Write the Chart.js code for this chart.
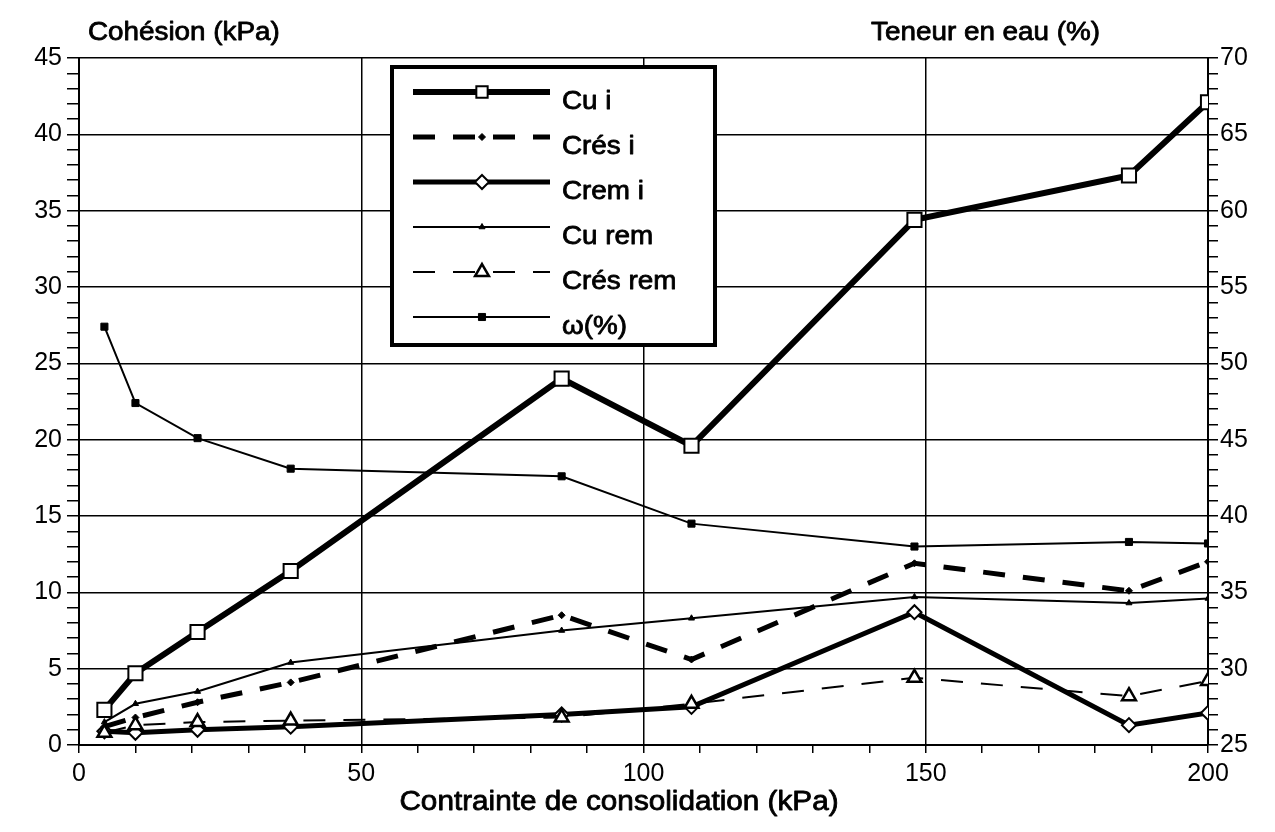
<!DOCTYPE html>
<html>
<head>
<meta charset="utf-8">
<script src="https://cdn.jsdelivr.net/npm/chart.js@4/dist/chart.umd.min.js"></script>
<style>
  html, body { margin: 0; padding: 0; background: #fff; }
  #wrap { width: 1275px; height: 832px; position: relative; }
  canvas { display: block; }
</style>
</head>
<body>
<div id="wrap"><canvas id="c" width="1275" height="832" style="width:1275px;height:832px"></canvas></div>
<script>
// Contrainte de consolidation (kPa)
const contrainte = [4.5, 10, 21, 37.5, 85.5, 108.5, 148, 186, 200];
// Cohésions (kPa) - axe de gauche
const cuI     = [2.3, 4.7, 7.4, 11.4, 24.0, 19.6, 34.4, 37.3, 42.1];
const cresI   = [1.2, 1.8, 2.8, 4.1, 8.5, 5.6, 11.9, 10.1, 12.0];
const cremI   = [0.9, 0.8, 1.0, 1.2, 2.0, 2.5, 8.7, 1.3, 2.1];
const cuRem   = [1.5, 2.7, 3.5, 5.4, 7.5, 8.3, 9.7, 9.3, 9.6];
const cresRem = [0.8, 1.3, 1.5, 1.6, 1.8, 2.7, 4.4, 3.2, 4.2];
// Teneur en eau (%) - axe de droite
const teneurEau = [52.4, 47.4, 45.1, 43.1, 42.6, 39.5, 38.0, 38.3, 38.2];

const seriesNames = ['Cu i', 'Crés i', 'Crem i', 'Cu rem', 'Crés rem', 'ω(%)'];

const FONT = "'Liberation Sans', Arial, Helvetica, sans-serif";

function pts(ys) { return contrainte.map((x, i) => ({ x: x, y: ys[i] })); }

const datasets = [
  { label: seriesNames[0], data: pts(cuI), yAxisID: 'y',
    borderColor: '#000', borderWidth: 6, borderDash: [],
    pointStyle: 'rect', pointRadius: 10, pointBorderWidth: 2,
    pointBackgroundColor: '#fff', pointBorderColor: '#000', order: 6 },
  { label: seriesNames[1], data: pts(cresI), yAxisID: 'y',
    borderColor: '#000', borderWidth: 5, borderDash: [22, 18],
    pointStyle: 'rectRot', pointRadius: 3.5, pointBorderWidth: 1,
    pointBackgroundColor: '#000', pointBorderColor: '#000', order: 5 },
  { label: seriesNames[2], data: pts(cremI), yAxisID: 'y',
    borderColor: '#000', borderWidth: 5, borderDash: [],
    pointStyle: 'rectRot', pointRadius: 7, pointBorderWidth: 2,
    pointBackgroundColor: '#fff', pointBorderColor: '#000', order: 4 },
  { label: seriesNames[3], data: pts(cuRem), yAxisID: 'y',
    borderColor: '#000', borderWidth: 2, borderDash: [],
    pointStyle: 'triangle', pointRadius: 3.5, pointBorderWidth: 1,
    pointBackgroundColor: '#000', pointBorderColor: '#000', order: 3 },
  { label: seriesNames[4], data: pts(cresRem), yAxisID: 'y',
    borderColor: '#000', borderWidth: 2, borderDash: [22, 18],
    pointStyle: 'triangle', pointRadius: 8, pointBorderWidth: 2.5,
    pointBackgroundColor: '#fff', pointBorderColor: '#000', order: 2 },
  { label: seriesNames[5], data: pts(teneurEau), yAxisID: 'y2',
    borderColor: '#000', borderWidth: 2, borderDash: [],
    pointStyle: 'rect', pointRadius: 5, pointBorderWidth: 1,
    pointBackgroundColor: '#000', pointBorderColor: '#000', order: 1 }
];

// horizontally stretched, slightly heavier text
function drawText(ctx, text, x, y, size, align, sx) {
  ctx.save();
  ctx.font = size + 'px ' + FONT;
  ctx.fillStyle = '#000';
  ctx.strokeStyle = '#000';
  ctx.lineWidth = 0.8;
  ctx.lineJoin = 'round';
  ctx.textBaseline = 'middle';
  const w = ctx.measureText(text).width * sx;
  let x0 = x;
  if (align === 'center') x0 = x - w / 2;
  else if (align === 'right') x0 = x - w;
  ctx.translate(x0, y);
  ctx.scale(sx, 1);
  ctx.textAlign = 'left';
  ctx.fillText(text, 0, 0);
  ctx.strokeText(text, 0, 0);
  ctx.restore();
}

// legend marker, same shapes as the chart points
function marker(ctx, style, r, x, y) {
  ctx.beginPath();
  if (style === 'rect') {
    const s = r * Math.SQRT1_2;
    ctx.rect(x - s, y - s, 2 * s, 2 * s);
  } else if (style === 'rectRot') {
    ctx.moveTo(x, y - r); ctx.lineTo(x + r, y); ctx.lineTo(x, y + r); ctx.lineTo(x - r, y);
    ctx.closePath();
  } else if (style === 'triangle') {
    ctx.moveTo(x, y - r);
    ctx.lineTo(x + Math.sin(2 * Math.PI / 3) * r, y - Math.cos(2 * Math.PI / 3) * r);
    ctx.lineTo(x + Math.sin(4 * Math.PI / 3) * r, y - Math.cos(4 * Math.PI / 3) * r);
    ctx.closePath();
  }
  ctx.fill();
  ctx.stroke();
}

const decor = {
  id: 'decor',
  afterDraw(chart) {
    const ctx = chart.ctx;
    // axis titles
    drawText(ctx, 'Cohésion (kPa)', 88, 33, 26, 'left', 1.07);
    drawText(ctx, 'Teneur en eau (%)', 1100, 33, 26, 'right', 1.07);
    drawText(ctx, 'Contrainte de consolidation (kPa)', 619, 803, 27, 'center', 1.1);

    // legend box
    const bx = 392, by = 67, bw = 323, bh = 278;
    ctx.save();
    ctx.fillStyle = '#fff';
    ctx.fillRect(bx, by, bw, bh);
    ctx.lineWidth = 4;
    ctx.strokeStyle = '#000';
    ctx.strokeRect(bx, by, bw, bh);
    ctx.restore();

    chart.data.datasets.forEach((ds, i) => {
      const ly = 92 + 45 * i;
      ctx.save();
      ctx.strokeStyle = ds.borderColor;
      ctx.lineWidth = ds.borderWidth;
      ctx.setLineDash(ds.borderDash || []);
      ctx.beginPath();
      ctx.moveTo(413, ly);
      ctx.lineTo(550, ly);
      ctx.stroke();
      ctx.setLineDash([]);
      ctx.fillStyle = ds.pointBackgroundColor;
      ctx.strokeStyle = ds.pointBorderColor;
      ctx.lineWidth = ds.pointBorderWidth;
      marker(ctx, ds.pointStyle, Math.min(ds.pointRadius, 8), 482, ly);
      ctx.restore();
      drawText(ctx, ds.label, 562, ly + 10, 26, 'left', 1.07);
    });
  }
};

const gridColor = (step) => (c) => (c.tick && Math.abs(c.tick.value % step) < 1e-9) ? '#000' : 'rgba(0,0,0,0)';

new Chart(document.getElementById('c'), {
  type: 'line',
  data: { datasets: datasets },
  options: {
    responsive: false,
    maintainAspectRatio: false,
    animation: false,
    devicePixelRatio: 1,
    layout: { padding: { top: 58, left: 0, right: 0, bottom: 0 } },
    plugins: { legend: { display: false }, tooltip: { enabled: false } },
    elements: { line: { tension: 0, fill: false } },
    scales: {
      x: {
        type: 'linear', position: 'bottom', min: 0, max: 200,
        afterFit(s) { s.height = 87; },
        ticks: {
          stepSize: 10, autoSkip: false, maxRotation: 0, padding: 6,
          color: '#000', font: { family: FONT, size: 25 },
          callback: (v) => (v % 50 === 0 ? String(v) : '')
        },
        grid: { color: gridColor(50), tickColor: '#000', lineWidth: 1.5, tickLength: 8 },
        border: { display: true, color: '#000', width: 2 }
      },
      y: {
        type: 'linear', position: 'left', min: 0, max: 45,
        afterFit(s) { s.width = 79; },
        ticks: {
          stepSize: 1, autoSkip: false, padding: 5,
          color: '#000', font: { family: FONT, size: 25 },
          callback: (v) => (v % 5 === 0 ? String(v) : '')
        },
        grid: { color: gridColor(5), tickColor: '#000', lineWidth: 1.5, tickLength: 12 },
        border: { display: true, color: '#000', width: 2 }
      },
      y2: {
        type: 'linear', position: 'right', min: 25, max: 70,
        afterFit(s) { s.width = 67; },
        ticks: {
          stepSize: 1, autoSkip: false, padding: 2,
          color: '#000', font: { family: FONT, size: 25 },
          callback: (v) => (v % 5 === 0 ? String(v) : '')
        },
        grid: { drawOnChartArea: false, tickColor: '#000', lineWidth: 1.5, tickLength: 10 },
        border: { display: true, color: '#000', width: 2 }
      }
    }
  },
  plugins: [decor]
});
</script>
</body>
</html>
